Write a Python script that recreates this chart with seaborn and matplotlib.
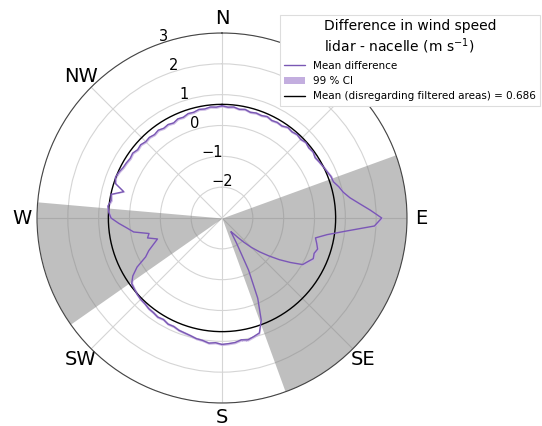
import numpy as np
import pandas as pd
import matplotlib
matplotlib.use("Agg")
import matplotlib.pyplot as plt
from matplotlib.lines import Line2D
from matplotlib.patches import Patch
import seaborn as sns

# ---- data ----
direction_deg = list(range(0, 360, 3))
mean_difference = [
    0.64, 0.60, 0.62, 0.57, 0.60, 0.55, 0.58, 0.56, 0.60, 0.55,   # 0-27
    0.58, 0.56, 0.63, 0.60, 0.64, 0.61, 0.66, 0.62, 0.65, 0.60,   # 30-57
    0.64, 0.68, 0.72, 0.78, 0.80, 0.92, 1.02, 1.20, 1.48, 1.82,   # 60-87
    2.18, 1.95, 1.05, 0.45, 0.10, 0.18, 0.26, 0.20, 0.24, 0.12,   # 90-117
    0.02, -0.35, -0.70, -1.05, -1.36, -1.65, -1.95, -2.20, -2.38, -2.47,  # 120-147
    -2.05, -1.10, -0.15, 0.55, 0.92, 0.98, 1.04, 1.00, 1.06, 1.08,  # 150-177
    1.10, 1.05, 1.08, 1.02, 1.00, 0.95, 0.92, 0.90, 0.85, 0.86,   # 180-207
    0.80, 0.83, 0.79, 0.78, 0.74, 0.73, 0.70, 0.66, 0.62, 0.45,   # 210-237
    0.18, -0.22, -0.40, -0.62, -0.80, -0.50, -0.58, -0.10, 0.10, 0.35,  # 240-267
    0.60, 0.68, 0.72, 0.64, 0.68, 0.30, 0.64, 0.70, 0.66, 0.60,   # 270-297
    0.58, 0.55, 0.58, 0.52, 0.55, 0.50, 0.52, 0.48, 0.52, 0.47,   # 300-327
    0.50, 0.46, 0.52, 0.50, 0.56, 0.55, 0.60, 0.58, 0.62, 0.60,   # 330-357
]
ci_half_width = 0.04
overall_mean = 0.686
filtered_sectors = [(70, 160), (235, 275)]
r_ticks = [-2, -1, 0, 1, 2, 3]
r_limits = (-3, 3)
compass_labels = ["N", "NE", "E", "SE", "S", "SW", "W", "NW"]
legend_title = "Difference in wind speed\nlidar - nacelle (m s$^{-1}$)"
legend_labels = ["Mean difference", "99 % CI",
                 f"Mean (disregarding filtered areas) = {overall_mean}"]

# ---- styling ----
sns.set_style("whitegrid")
plt.rcParams["font.family"] = ["DejaVu Sans"]
plt.rcParams["text.color"] = "black"
plt.rcParams["xtick.color"] = "black"
plt.rcParams["ytick.color"] = "black"
plt.rcParams["xtick.labelcolor"] = "black"
plt.rcParams["ytick.labelcolor"] = "black"
line_color = "#7a58b4"
ci_color = "#c3aedf"

df = pd.DataFrame({"deg": direction_deg + [360],
                   "mean": mean_difference + [mean_difference[0]]})
df["theta"] = np.deg2rad(df["deg"])

fig = plt.figure(figsize=(5.42, 4.26), dpi=100)
ax = fig.add_axes([37 / 542, 23 / 426, 370 / 542, 370 / 426], projection="polar")
ax.set_theta_zero_location("N")
ax.set_theta_direction(-1)

# filtered sectors
for lo, hi in filtered_sectors:
    th = np.deg2rad(np.linspace(lo, hi, 100))
    ax.fill_between(th, r_limits[0], r_limits[1], color="gray", alpha=0.5,
                    linewidth=0, zorder=1)

# CI band
ax.fill_between(df["theta"], df["mean"] - ci_half_width, df["mean"] + ci_half_width,
                color=ci_color, alpha=0.8, linewidth=0, zorder=2)

# overall mean circle
th_full = np.linspace(0, 2 * np.pi, 400)
ax.plot(th_full, np.full_like(th_full, overall_mean), color="black", lw=1.0, zorder=3)

# mean difference line
sns.lineplot(data=df, x="theta", y="mean", ax=ax, color=line_color, lw=1.0,
             sort=False, zorder=4, legend=False)

ax.set_ylim(*r_limits)
ax.set_yticks(r_ticks)
ax.set_yticklabels([f"{t}" if t >= 0 else f"\u2212{abs(t)}" for t in r_ticks], fontsize=10.5)
ax.set_rlabel_position(-20)
ax.set_xticks(np.deg2rad(np.arange(0, 360, 45)))
ax.set_xticklabels(compass_labels, fontsize=14)
ax.tick_params(axis="x", pad=0, labelcolor="black")
ax.tick_params(axis="y", labelcolor="black")
ax.set_xlabel("")
ax.set_ylabel("")
ax.grid(color="#d5d5d5", lw=0.8)
ax.spines["polar"].set_color("#444444")
ax.spines["polar"].set_linewidth(0.8)

handles = [Line2D([], [], color=line_color, lw=1.0),
           Patch(facecolor=ci_color, edgecolor="none"),
           Line2D([], [], color="black", lw=1.0)]
leg = fig.legend(handles, legend_labels, title=legend_title, loc="upper right",
                 bbox_to_anchor=(540 / 542, 1 - 15 / 426), fontsize=7.5,
                 title_fontsize=10, framealpha=1, fancybox=False,
                 edgecolor="#dddddd", borderaxespad=0.0, labelcolor="black")
leg.get_frame().set_linewidth(0.8)
leg.get_title().set_color("black")

fig.savefig("out.png", dpi=100)
